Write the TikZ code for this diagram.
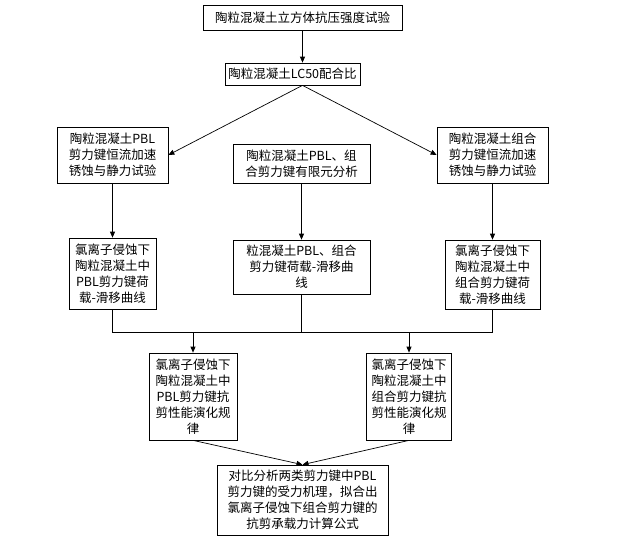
\documentclass[tikz,border=0pt]{standalone}
\usepackage{fontspec}
\newfontfamily\cjk{Noto Sans CJK SC}
\usetikzlibrary{arrows.meta}
\begin{document}
\begin{tikzpicture}[x=1pt,y=-1pt,
 box/.style={draw, line width=0.7pt, align=center, inner sep=2pt, font=\cjk\fontsize{12.5}{16}\selectfont},
 arr/.style={-{Triangle[length=6pt,width=5pt]}, line width=0.7pt},
 ln/.style={line width=0.7pt}]
\useasboundingbox (0,0) rectangle (620,542);
\node[box, minimum width=199pt, minimum height=25pt] (b1) at (302.5,17.5) {陶粒混凝土立方体抗压强度试验};
\node[box, minimum width=135pt, minimum height=22pt] (b2) at (292.5,74) {陶粒混凝土LC50配合比};
\node[box, minimum width=111pt, minimum height=56pt] (b3) at (112.5,155) {陶粒混凝土PBL\\剪力键恒流加速\\锈蚀与静力试验};
\node[box, minimum width=137pt, minimum height=39pt] (b4) at (301.5,163.5) {陶粒混凝土PBL、组\\合剪力键有限元分析};
\node[box, minimum width=111pt, minimum height=56pt] (b5) at (492.5,155) {陶粒混凝土组合\\剪力键恒流加速\\锈蚀与静力试验};
\node[box, minimum width=87pt, minimum height=71pt] (b6) at (112.5,273.5) {氯离子侵蚀下\\陶粒混凝土中\\PBL剪力键荷\\载-滑移曲线};
\node[box, minimum width=137pt, minimum height=54pt] (b7) at (301.5,267) {粒混凝土PBL、组合\\剪力键荷载-滑移曲\\线};
\node[box, minimum width=95pt, minimum height=69pt] (b8) at (492.5,274.5) {氯离子侵蚀下\\陶粒混凝土中\\组合剪力键荷\\载-滑移曲线};
\node[box, minimum width=88pt, minimum height=87pt] (b9) at (193,396.5) {氯离子侵蚀下\\陶粒混凝土中\\PBL剪力键抗\\剪性能演化规\\律};
\node[box, minimum width=85pt, minimum height=87pt] (b10) at (409,396.5) {氯离子侵蚀下\\陶粒混凝土中\\组合剪力键抗\\剪性能演化规\\律};
\node[box, minimum width=171pt, minimum height=70pt] (b11) at (302.5,500) {对比分析两类剪力键中PBL\\剪力键的受力机理，拟合出\\氯离子侵蚀下组合剪力键的\\抗剪承载力计算公式};
\coordinate (m) at (302,332);
\draw[arr] (b1.south) -- (b1.south |- b2.north);
\draw[arr] (b1.south |- b2.south) -- (b3.east);
\draw[arr] (b1.south |- b2.south) -- (b5.west);
\draw[arr] (b3.south) -- (b6.north);
\draw[arr] (b4.south) -- (b7.north);
\draw[arr] (b5.south) -- (b8.north);
\draw[ln] (b6.south) -- (b6.south |- m) -- (b8.south |- m) -- (b8.south);
\draw[ln] (b7.south) -- (b7.south |- m);
\draw[arr] (b9.north |- m) -- (b9.north);
\draw[arr] (b10.north |- m) -- (b10.north);
\draw[arr] (b9.south) -- (b11.north);
\draw[arr] (b10.south) -- (b11.north);
\end{tikzpicture}
\end{document}
